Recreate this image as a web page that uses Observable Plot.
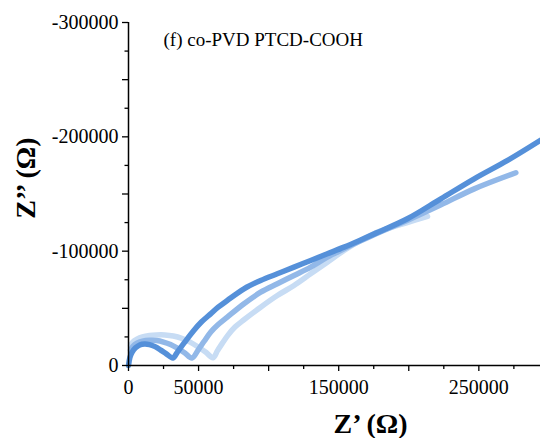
<!DOCTYPE html>
<html>
<head>
<meta charset="utf-8">
<script src="https://cdn.jsdelivr.net/npm/d3@7"></script>
<script src="https://cdn.jsdelivr.net/npm/@observablehq/plot@0.6"></script>
<style>
  html, body { margin: 0; padding: 0; background: #fff; }
  #chart svg { display: block; }
</style>
</head>
<body>
<div id="chart"></div>
<script>
// Nyquist plot, co-PVD PTCD-COOH: three impedance spectra (Z' vs Z'', in ohms)
const title = "(f) co-PVD PTCD-COOH";
const xLabel = "Z\u2019 (\u03A9)";
const yLabel = "Z\u2019\u2019 (\u03A9)";

// spectrum A (darkest)
const reA = [0, 1000, 2500, 5000, 8000, 11500, 15000, 19000, 23000, 27000, 31700, 35000, 40000, 46600, 52000, 58600, 64000, 70500, 82400, 94300, 106200, 118100, 130000, 141900, 153800, 165700, 177000, 199000, 222900, 246700, 270500, 294000];
const imA = [0, -7000, -11500, -15500, -18000, -18800, -18300, -16500, -13500, -10200, -6600, -12000, -20200, -30600, -38000, -45200, -51000, -56900, -67100, -74400, -80200, -86000, -91900, -97700, -103500, -109800, -116000, -128300, -145800, -163300, -179400, -197000];

// spectrum B (medium)
const reB = [1500, 3000, 6000, 10000, 15000, 20000, 25000, 30000, 35000, 40000, 45300, 50000, 54000, 58600, 64000, 70500, 82400, 94300, 106200, 118100, 130000, 141900, 153800, 165700, 180000, 200000, 223000, 246700, 276400];
const imB = [-13500, -16500, -19500, -21300, -22000, -21800, -20500, -18300, -15000, -11200, -6600, -14200, -21200, -29100, -35800, -42300, -54000, -64100, -71500, -78700, -86000, -94800, -102100, -109000, -117000, -127500, -140500, -154500, -168600];

// spectrum C (lightest)
const reC = [1500, 3000, 6000, 10000, 15000, 20000, 26000, 32000, 38000, 44000, 50000, 55000, 60300, 63500, 67000, 71000, 76000, 82400, 94300, 106200, 118100, 130000, 141900, 153800, 165700, 180000, 200000, 213400];
const imC = [-17500, -20500, -23000, -25000, -26200, -26700, -26700, -25800, -23800, -20500, -16000, -11800, -6800, -13000, -19600, -26600, -33600, -40000, -51000, -61200, -70000, -80200, -90400, -100600, -109400, -117800, -125500, -130400];

const colorA = "#5590d9";
const colorB = "#92b8e8";
const colorC = "#c7dcf4";

// axis ticks
const xTicksMajor = [0, 50000, 100000, 150000, 200000, 250000];
const xTicksMinor = [25000, 75000, 125000, 175000, 225000, 275000];
const xTickLabels = [0, 50000, 150000, 250000];
const yTicksMajor = [0, -50000, -100000, -150000, -200000, -250000, -300000];
const yTicksMinor = [-25000, -75000, -125000, -175000, -225000, -275000];
const yTickLabels = [0, -100000, -200000, -300000];

const toRows = (re, im) => re.map((x, i) => ({re: x, im: im[i]}));

const font = "'Liberation Serif', 'Times New Roman', Times, serif";
const lineStyle = {x: "re", y: "im", strokeWidth: 5.5, strokeLinecap: "round", strokeLinejoin: "round", curve: "catmull-rom"};

const chart = Plot.plot({
  width: 540,
  height: 438,
  marginLeft: 128,
  marginRight: 0,
  marginTop: 22,
  marginBottom: 73,
  style: {fontFamily: font, color: "#000", background: "#fff"},
  x: {domain: [0, 294000], label: null},
  y: {domain: [0, -300000], label: null},
  marks: [
    Plot.line(toRows(reC, imC), {...lineStyle, stroke: colorC}),
    Plot.line(toRows(reB, imB), {...lineStyle, stroke: colorB}),
    Plot.line(toRows(reA, imA), {...lineStyle, stroke: colorA}),
    // axis lines
    Plot.ruleX([0], {stroke: "#000", strokeWidth: 1.5}),
    Plot.ruleY([0], {stroke: "#000", strokeWidth: 1.5}),
    // x axis ticks and labels
    Plot.axisX({ticks: xTicksMajor, tickSize: 6, strokeWidth: 1.3, text: null, label: null}),
    Plot.axisX({ticks: xTicksMinor, tickSize: 4, strokeWidth: 1.3, text: null, label: null}),
    Plot.axisX({ticks: xTickLabels, tickSize: 0, tickPadding: 14.5, fontSize: 20, tickFormat: d => String(d), label: null}),
    // y axis ticks and labels
    Plot.axisY({ticks: yTicksMajor, tickSize: 6, strokeWidth: 1.3, text: null, label: null}),
    Plot.axisY({ticks: yTicksMinor, tickSize: 3.5, strokeWidth: 1.3, text: null, label: null}),
    Plot.axisY({ticks: yTickLabels, tickSize: 0, tickPadding: 10, fontSize: 20, tickFormat: d => String(d), label: null}),
    // panel title
    Plot.text([title], {frameAnchor: "top-left", dx: 35, dy: 17.5, textAnchor: "start", lineAnchor: "middle", fontSize: 19}),
    // axis titles
    Plot.text([xLabel], {frameAnchor: "bottom", dx: 36, dy: 59, textAnchor: "middle", lineAnchor: "middle", fontSize: 28, fontWeight: "bold"}),
    Plot.text([yLabel], {frameAnchor: "left", dx: -102, dy: -16, rotate: -90, textAnchor: "middle", lineAnchor: "middle", fontSize: 28, fontWeight: "bold"})
  ]
});

document.getElementById("chart").appendChild(chart);
</script>
</body>
</html>
